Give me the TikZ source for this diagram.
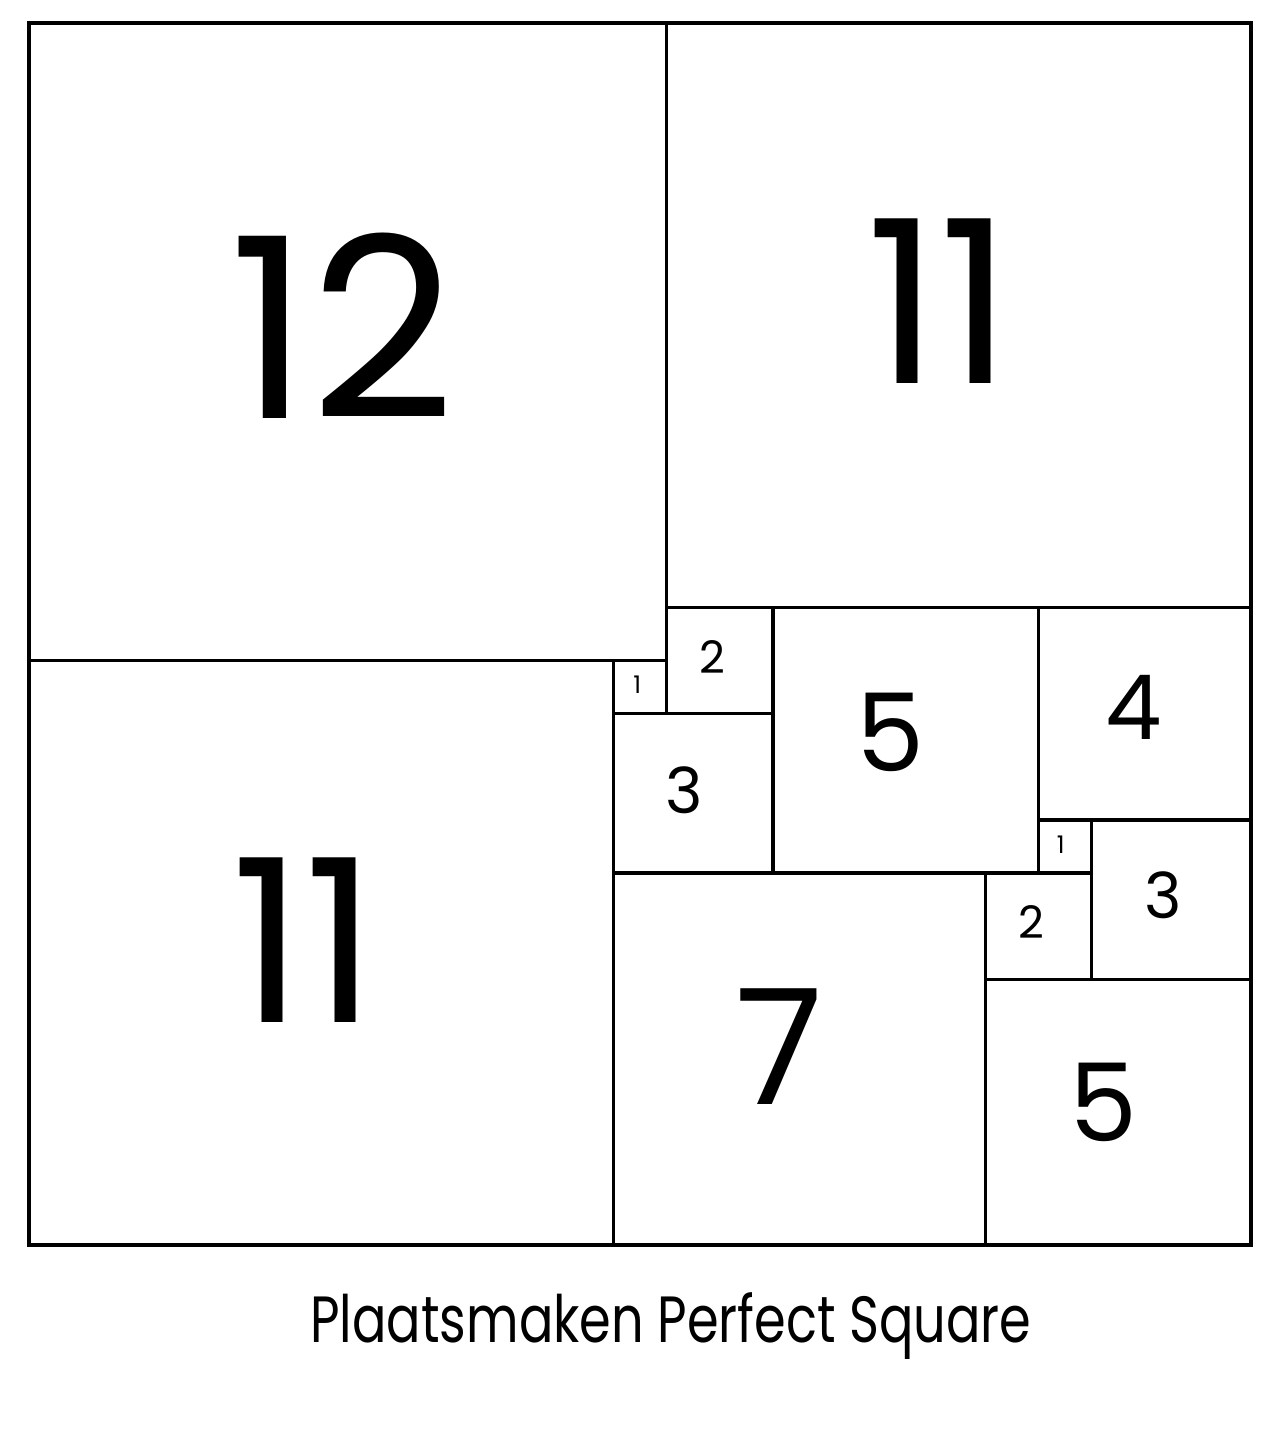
\documentclass[tikz,border=0pt]{standalone}
\usepackage{fontspec}
\setmainfont{Poppins}
\newfontfamily\captionfont[FakeStretch=0.78]{Poppins}
\newcommand{\sqfont}[1]{\fontsize{#1}{#1}\selectfont}

\begin{document}
\begin{tikzpicture}[line width=1.8pt,
                    sq/.style={draw, rectangle, minimum size=#1cm, inner sep=0pt},
                    num/.style={inner sep=0pt, font=\sqfont{#1}},
                    caption/.style={anchor=base, font=\captionfont\fontsize{35pt}{35pt}\selectfont}]
  \useasboundingbox (-0.546,-3.633) rectangle (23.602,23.433);
  % squares
  \node (sqA) [sq=12] at (6,17) {};
  \node (sqB) [sq=11] at (17.5,17.5) {};
  \node (sqC) [sq=11] at (5.5,5.5) {};
  \node (sqD) [sq=1] at (11.5,10.5) {};
  \node (sqE) [sq=2] at (13,11) {};
  \node (sqF) [sq=3] at (12.5,8.5) {};
  \node (sqG) [sq=5] at (16.5,9.5) {};
  \node (sqH) [sq=4] at (21,10) {};
  \node (sqI) [sq=1] at (19.5,7.5) {};
  \node (sqJ) [sq=3] at (21.5,6.5) {};
  \node (sqK) [sq=2] at (19,6) {};
  \node (sqL) [sq=7] at (14.5,3.5) {};
  \node (sqM) [sq=5] at (20.5,2.5) {};
  % numbers
  \node (numA) [num=135pt, xshift=-1mm, yshift=3mm] at (sqA) {12};
  \node (numB) [num=122pt, xshift=-3.6mm, yshift=2.6mm] at (sqB) {11};
  \node (numC) [num=122pt, xshift=-3.2mm, yshift=2.3mm] at (sqC) {11};
  \node (numD) [num=13pt, xshift=-0.5mm, yshift=0.5mm] at (sqD) {1};
  \node (numE) [num=24pt, xshift=-1.3mm, yshift=0.6mm] at (sqE) {2};
  \node (numF) [num=34pt, xshift=-1.7mm, yshift=0.6mm] at (sqF) {3};
  \node (numG) [num=58pt, xshift=-2.8mm, yshift=1.5mm] at (sqG) {5};
  \node (numH) [num=48pt, xshift=-2mm, yshift=1.1mm] at (sqH) {4};
  \node (numI) [num=13pt, xshift=-0.8mm, yshift=0.4mm] at (sqI) {1};
  \node (numJ) [num=34pt, xshift=-1.5mm, yshift=0.9mm] at (sqJ) {3};
  \node (numK) [num=24pt, xshift=-1.3mm, yshift=0.8mm] at (sqK) {2};
  \node (numL) [num=86pt, xshift=-3.8mm, yshift=2.3mm] at (sqL) {7};
  \node (numM) [num=58pt, xshift=-2.7mm, yshift=1.9mm] at (sqM) {5};
  % caption
  \node (title) [caption] at (12.08,-1.84) {Plaatsmaken Perfect Square};
\end{tikzpicture}
\end{document}
